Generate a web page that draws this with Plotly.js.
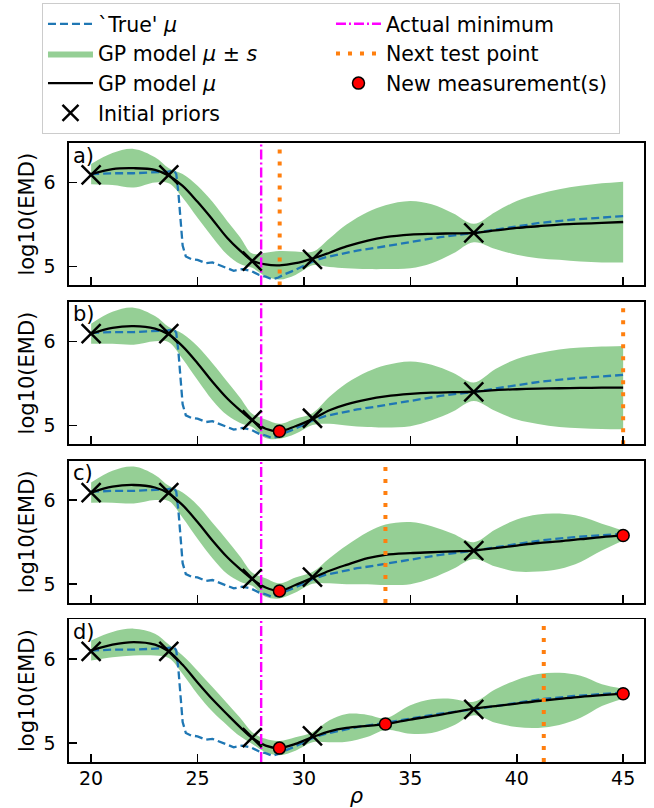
<!DOCTYPE html>
<html>
<head>
<meta charset="utf-8">
<script src="https://cdn.plot.ly/plotly-3.0.1.min.js"></script>
<style>html,body{margin:0;padding:0;background:#fff;}#chart{width:654px;height:808px;}</style>
</head>
<body>
<div id="chart"></div>
<script>
// ---------------- data ----------------
const panelLabels = ['a)', 'b)', 'c)', 'd)'];

// 'True' mu
const trueX = [20, 21, 22, 23, 23.6, 23.9, 24.0, 24.1, 24.2, 24.3, 24.45, 24.7, 25.0, 25.4, 25.7, 26.0, 26.3, 26.7, 27.1, 27.5, 27.9, 28.2, 28.5, 28.8, 29.1, 29.5, 30.0, 30.5, 31.0, 31.7, 32.5, 33.3, 34.0, 34.9, 36.4, 38.0, 39.5, 41.1, 42.7, 44.0, 45.0];
const trueY = [6.10, 6.11, 6.11, 6.12, 6.13, 6.14, 6.10, 5.88, 5.55, 5.25, 5.12, 5.09, 5.08, 5.04, 5.05, 5.02, 4.99, 4.95, 4.97, 4.95, 4.90, 4.88, 4.85, 4.87, 4.91, 4.95, 5.01, 5.07, 5.11, 5.15, 5.19, 5.22, 5.25, 5.29, 5.35, 5.40, 5.46, 5.52, 5.56, 5.58, 5.60];

// GP model grid
const gpX = [20, 21, 22, 23, 23.65, 24.3, 25, 25.7, 26.4, 27, 27.57, 28.2, 28.85, 29.6, 30.4, 31.2, 32, 33, 33.83, 35, 36, 37, 37.98, 39, 40, 41, 42, 43, 44, 45];

const meanA = [6.10, 6.16, 6.17, 6.15, 6.08, 5.96, 5.77, 5.56, 5.34, 5.19, 5.07, 5.025, 5.015, 5.04, 5.095, 5.165, 5.24, 5.31, 5.35, 5.38, 5.39, 5.395, 5.40, 5.43, 5.46, 5.48, 5.50, 5.51, 5.52, 5.53];
const sdA   = [0.12, 0.19, 0.23, 0.15, 0.09, 0.14, 0.19, 0.21, 0.20, 0.16, 0.085, 0.14, 0.17, 0.14, 0.08, 0.17, 0.26, 0.34, 0.38, 0.40, 0.35, 0.24, 0.11, 0.22, 0.32, 0.38, 0.42, 0.45, 0.47, 0.48];

const meanB = [6.09, 6.16, 6.18, 6.15, 6.08, 5.94, 5.74, 5.52, 5.32, 5.18, 5.06, 4.96, 4.93, 4.99, 5.075, 5.18, 5.25, 5.31, 5.345, 5.375, 5.39, 5.395, 5.40, 5.42, 5.43, 5.437, 5.442, 5.446, 5.448, 5.45];
const sdB   = [0.12, 0.19, 0.22, 0.15, 0.09, 0.15, 0.20, 0.22, 0.20, 0.15, 0.08, 0.11, 0.09, 0.09, 0.07, 0.16, 0.25, 0.33, 0.37, 0.385, 0.33, 0.23, 0.11, 0.25, 0.36, 0.42, 0.46, 0.48, 0.49, 0.495];

const meanC = [6.09, 6.16, 6.18, 6.15, 6.08, 5.94, 5.74, 5.52, 5.32, 5.18, 5.06, 4.96, 4.92, 4.99, 5.075, 5.16, 5.23, 5.31, 5.35, 5.37, 5.38, 5.39, 5.40, 5.43, 5.46, 5.49, 5.51, 5.535, 5.56, 5.58];
const sdC   = [0.12, 0.19, 0.22, 0.15, 0.09, 0.15, 0.20, 0.21, 0.20, 0.15, 0.08, 0.11, 0.09, 0.09, 0.07, 0.15, 0.23, 0.31, 0.36, 0.37, 0.31, 0.21, 0.10, 0.22, 0.31, 0.34, 0.33, 0.27, 0.16, 0.06];

const meanD = [6.10, 6.17, 6.20, 6.17, 6.09, 5.93, 5.72, 5.52, 5.34, 5.19, 5.06, 4.97, 4.94, 4.99, 5.07, 5.14, 5.18, 5.205, 5.226, 5.28, 5.32, 5.365, 5.41, 5.44, 5.47, 5.50, 5.525, 5.55, 5.57, 5.587];
const sdD   = [0.12, 0.15, 0.16, 0.13, 0.08, 0.11, 0.14, 0.145, 0.13, 0.11, 0.07, 0.08, 0.085, 0.08, 0.06, 0.13, 0.165, 0.13, 0.07, 0.17, 0.20, 0.16, 0.08, 0.20, 0.28, 0.32, 0.31, 0.25, 0.13, 0.06];

// initial priors
const priorX = [20, 23.65, 27.57, 30.4, 37.98];
const priorY = [6.09, 6.09, 5.065, 5.085, 5.40];

// new measurements per panel
const newX = [[], [28.85], [28.85, 45], [28.85, 33.83, 45]];
const newY = [[], [4.93], [4.92, 5.58], [4.94, 5.226, 5.587]];

// vertical lines
const actualMin = 27.99;
const nextTest = [28.86, 45.0, 33.83, 41.27];

const xTicks = [20, 25, 30, 35, 40, 45];
const yTicks = [5, 6];

// ---------------- build ----------------
const means = [meanA, meanB, meanC, meanD];
const sds = [sdA, sdB, sdC, sdD];
const yRange = [4.775, 6.47];
const xRange = [18.96, 45.98];
const domains = [[0.7698, 1], [0.5132, 0.7435], [0.2567, 0.4869], [0, 0.2304]];

const traces = [];
for (let i = 0; i < 4; i++) {
  const sx = i === 0 ? 'x' : 'x' + (i + 1);
  const sy = i === 0 ? 'y' : 'y' + (i + 1);
  const first = i === 0;
  const lower = means[i].map((m, k) => m - sds[i][k]);
  const upper = means[i].map((m, k) => m + sds[i][k]);
  traces.push({x: gpX, y: lower, xaxis: sx, yaxis: sy, mode: 'lines', line: {width: 0, shape: 'spline'}, showlegend: false, hoverinfo: 'skip', legendgroup: 'band'});
  traces.push({x: gpX, y: upper, xaxis: sx, yaxis: sy, mode: 'lines', line: {width: 0, shape: 'spline'}, fill: 'tonexty', fillcolor: 'rgba(44,160,44,0.5)', name: 'GP model <i>μ</i> ± <i>s</i>', legendgroup: 'band', showlegend: first, legendrank: 3});
  traces.push({x: trueX, y: trueY, xaxis: sx, yaxis: sy, mode: 'lines', line: {color: '#1f77b4', width: 2.3, dash: '8px,4px'}, name: "`True' <i>μ</i>", legendgroup: 'true', showlegend: first, legendrank: 1});
  traces.push({x: gpX, y: means[i], xaxis: sx, yaxis: sy, mode: 'lines', line: {color: 'black', width: 2.3, shape: 'spline'}, name: 'GP model <i>μ</i>', legendgroup: 'mean', showlegend: first, legendrank: 5});
  traces.push({x: [actualMin, actualMin], y: yRange, xaxis: sx, yaxis: sy, mode: 'lines', line: {color: '#ff00ff', width: 2.4, dash: '10px,3px,2px,3px'}, name: 'Actual minimum', legendgroup: 'min', showlegend: first, legendrank: 2});
  traces.push({x: [nextTest[i], nextTest[i]], y: yRange, xaxis: sx, yaxis: sy, mode: 'lines', line: {color: '#ff7f0e', width: 4, dash: '4px,8px'}, name: 'Next test point', legendgroup: 'next', showlegend: first, legendrank: 4});
  traces.push({x: priorX, y: priorY, xaxis: sx, yaxis: sy, mode: 'markers', marker: {symbol: 'x-thin', size: 19, color: 'black', line: {color: 'black', width: 2.5}}, name: 'Initial priors', legendgroup: 'prior', showlegend: first, legendrank: 7, cliponaxis: false});
  traces.push({x: newX[i].length ? newX[i] : [null], y: newY[i].length ? newY[i] : [null], xaxis: sx, yaxis: sy, mode: 'markers', marker: {symbol: 'circle', size: 12, color: 'red', line: {color: 'black', width: 1.5}}, name: 'New measurement(s)', legendgroup: 'new', showlegend: first, legendrank: 6, cliponaxis: false});
}

const font = {family: 'DejaVu Sans', size: 19, color: 'black'};
const layout = {
  width: 654, height: 808,
  margin: {l: 69, r: 10, t: 143, b: 46},
  paper_bgcolor: 'white', plot_bgcolor: 'white',
  font: font,
  showlegend: true,
  legend: {
    orientation: 'h', xref: 'container', yref: 'container',
    x: 0.0642, y: 0.9963, xanchor: 'left', yanchor: 'top',
    itemwidth: 45, entrywidth: 228, bordercolor: '#cccccc', borderwidth: 1, bgcolor: 'white',
    font: {family: 'DejaVu Sans', size: 20.5, color: 'black'}, traceorder: 'normal'
  },
  annotations: [],
};
for (let i = 0; i < 4; i++) {
  const xk = i === 0 ? 'xaxis' : 'xaxis' + (i + 1);
  const yk = i === 0 ? 'yaxis' : 'yaxis' + (i + 1);
  const sx = i === 0 ? 'x' : 'x' + (i + 1);
  const sy = i === 0 ? 'y' : 'y' + (i + 1);
  layout[xk] = {
    anchor: sy, domain: [0, 1], range: xRange, tickvals: xTicks, ticktext: xTicks.map(String),
    showticklabels: i === 3, ticks: 'inside', ticklen: 8, tickwidth: 1.6, tickcolor: 'black',
    showline: true, linecolor: 'black', linewidth: 1.6, mirror: true, showgrid: false, zeroline: false,
    tickfont: font, ticklabelstandoff: -1
  };
  if (i === 3) layout[xk].title = {text: '<i>ρ</i>', font: {family: 'DejaVu Sans', size: 21}, standoff: 2};
  layout[yk] = {
    anchor: sx, domain: domains[i], range: yRange, tickvals: yTicks, ticktext: yTicks.map(String),
    ticks: 'inside', ticklen: 8, tickwidth: 1.6, tickcolor: 'black',
    showline: true, linecolor: 'black', linewidth: 1.6, mirror: true, showgrid: false, zeroline: false,
    tickfont: font, ticklabelstandoff: 8,
    title: {text: 'log10(EMD)', font: {family: 'DejaVu Sans', size: 21}, standoff: 3}
  };
  layout.annotations.push({
    text: panelLabels[i], xref: sx + ' domain', yref: sy + ' domain', x: 0.004, y: 1.01,
    xanchor: 'left', yanchor: 'top', showarrow: false, font: {family: 'DejaVu Sans', size: 21, color: 'black'}
  });
}

Plotly.newPlot('chart', traces, layout, {staticPlot: true, displayModeBar: false});
</script>
</body>
</html>
